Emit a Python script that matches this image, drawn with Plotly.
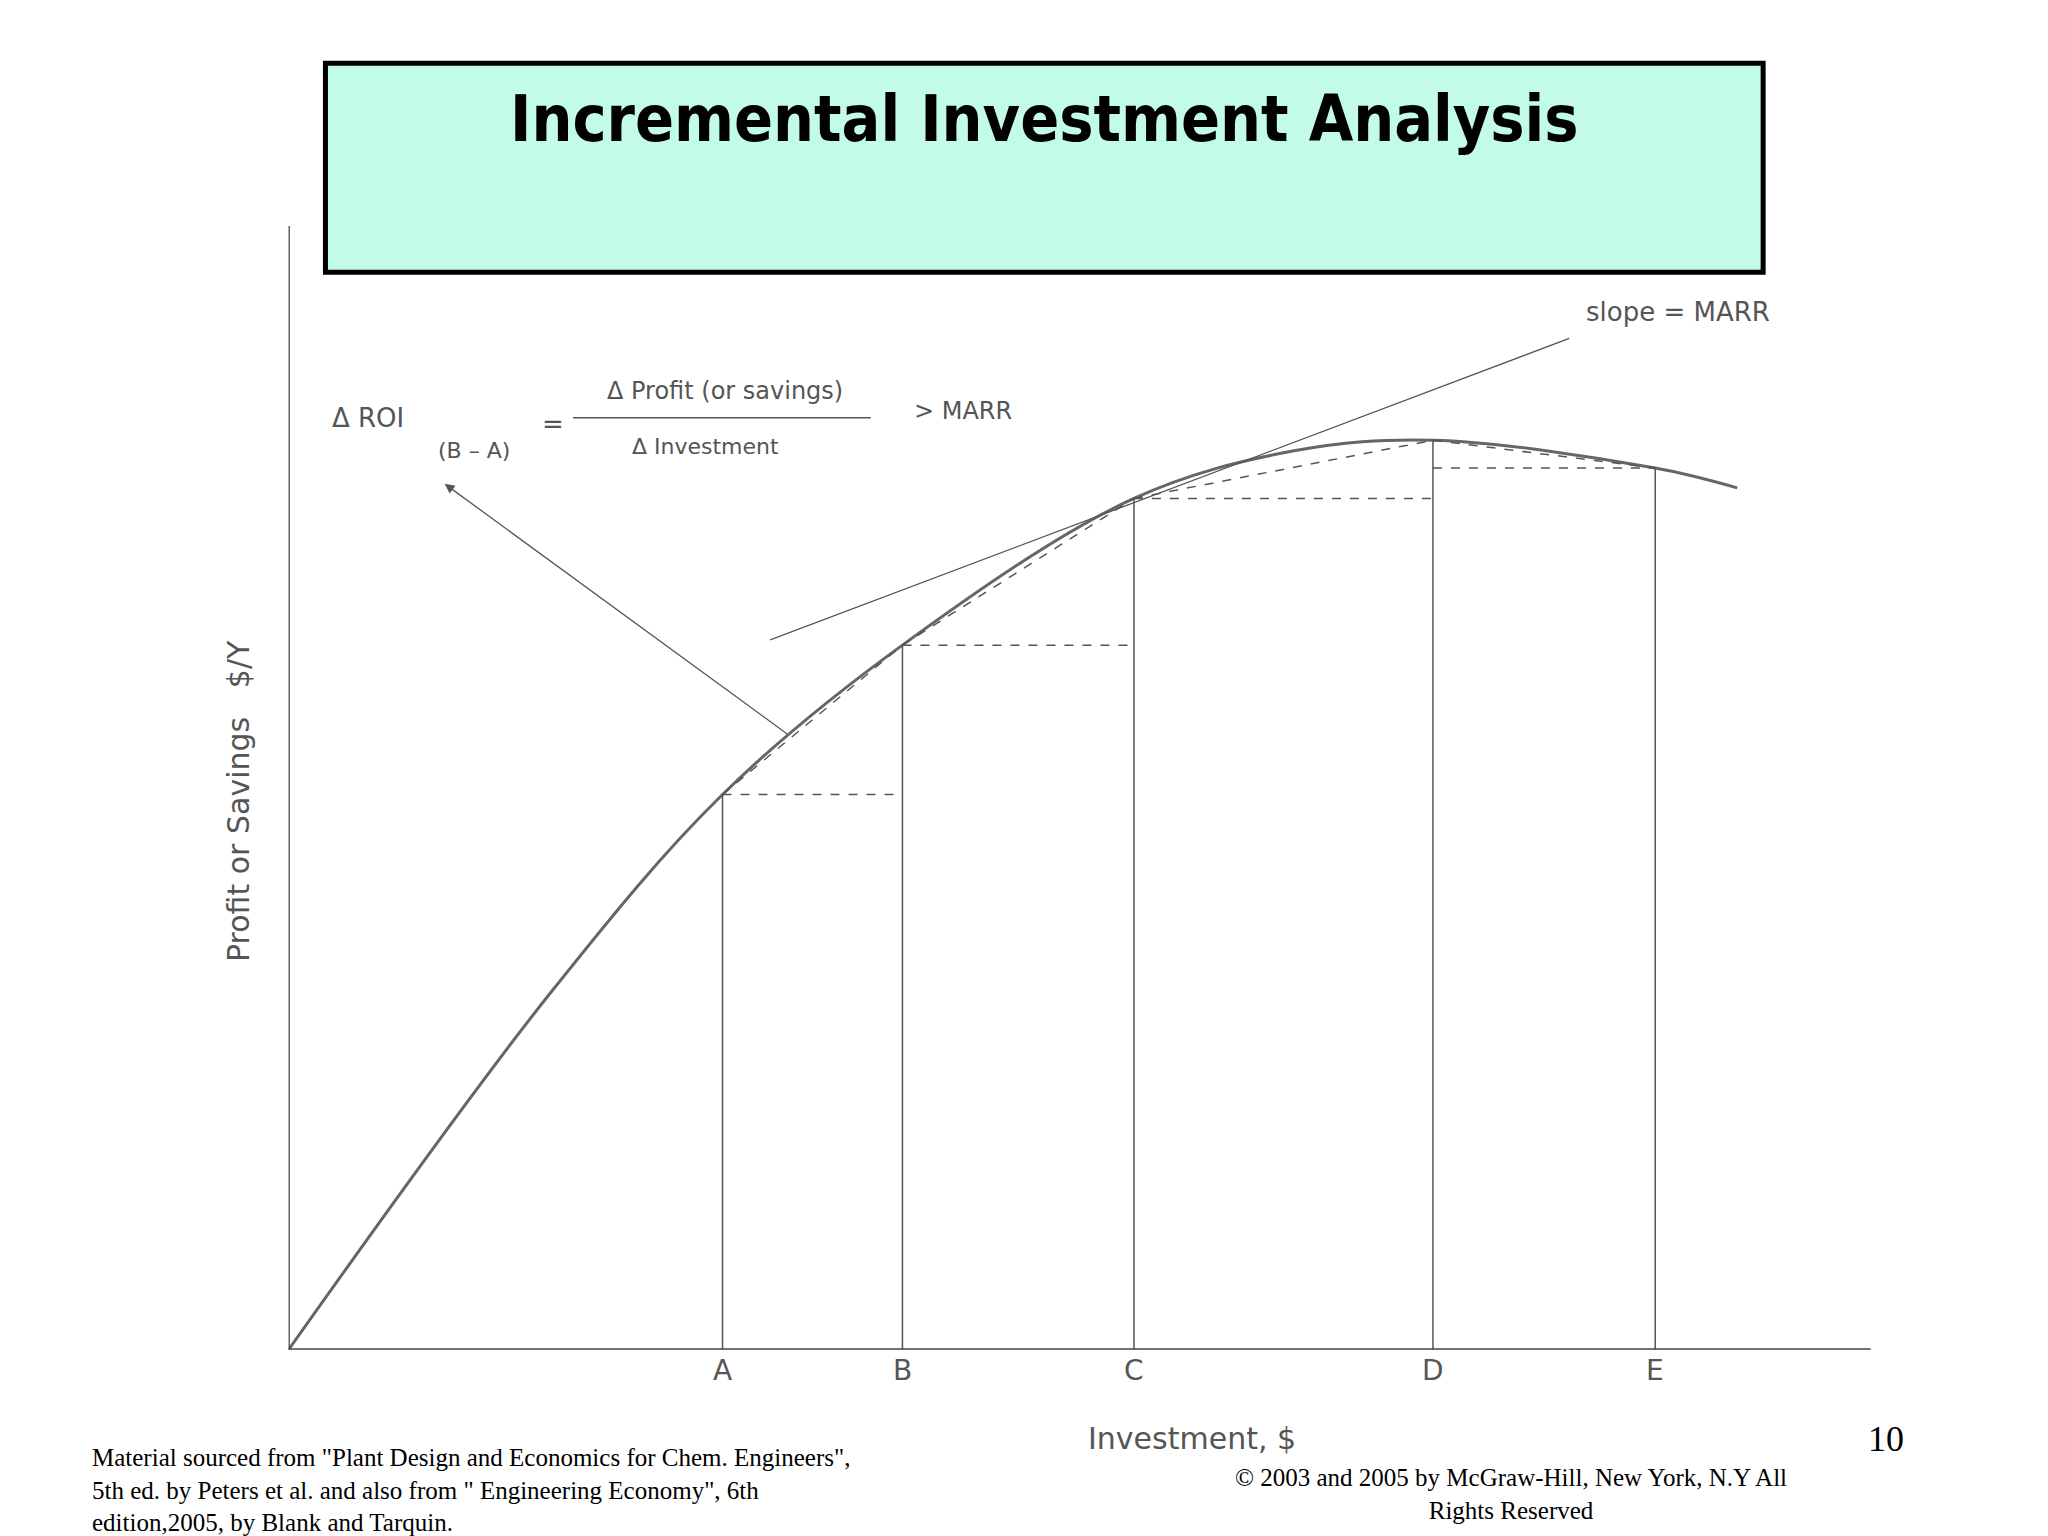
import plotly.graph_objects as go

# curve points (investment, profit) in arbitrary units
curve_x = [0, 198, 328, 464, 639, 760, 865, 1033, 1095]
curve_y = [0, 270, 420, 533, 644, 680, 688, 667, 652]
alt_labels = ["A", "B", "C", "D", "E"]
alt_x = [328, 464, 639, 865, 1033]
alt_y = [420, 533, 644, 688, 667]
tangent_x = [364, 968]
tangent_y = [537, 765]

W, H = 2048, 1536
fig = go.Figure()
G = "#555"
fig.add_trace(go.Scatter(x=curve_x, y=curve_y, mode="lines", line=dict(color="#666", width=3, shape="spline"), hoverinfo="skip"))
fig.add_trace(go.Scatter(x=tangent_x, y=tangent_y, mode="lines", line=dict(color=G, width=1.3), hoverinfo="skip"))
for i, (x, y) in enumerate(zip(alt_x, alt_y)):
    fig.add_trace(go.Scatter(x=[x, x], y=[0, y], mode="lines", line=dict(color=G, width=1.5), hoverinfo="skip"))
    if i + 1 < len(alt_x):
        nx, ny = alt_x[i + 1], alt_y[i + 1]
        hy = min(y, ny)
        fig.add_trace(go.Scatter(x=[x, nx], y=[hy, hy], mode="lines", line=dict(color=G, width=1.5, dash="dash"), hoverinfo="skip"))
        fig.add_trace(go.Scatter(x=[x, nx], y=[y, ny], mode="lines", line=dict(color=G, width=1.5, dash="dash"), hoverinfo="skip"))

fig.update_layout(
    width=W, height=H, margin=dict(l=0, r=0, t=0, b=0), showlegend=False,
    paper_bgcolor="white", plot_bgcolor="white",
    xaxis=dict(domain=[0.137, 0.9096], range=[0, 1196], showgrid=False, zeroline=False, showticklabels=False),
    yaxis=dict(domain=[0.1265, 0.858], range=[0, 850], showgrid=False, zeroline=False, showticklabels=False),
)
fig.add_shape(type="line", xref="x", yref="y", x0=0, y0=0, x1=1196, y1=0, line=dict(color="#444", width=3))
fig.add_shape(type="line", xref="x", yref="y", x0=0, y0=0, x1=0, y1=850, line=dict(color="#444", width=2.5))
fig.add_shape(type="rect", xref="paper", yref="paper", x0=0.155, x1=0.857, y0=0.828, y1=0.964,
              fillcolor="#c3fbea", line=dict(color="black", width=5))
fig.add_annotation(xref="paper", yref="paper", x=0.506, y=0.928, yanchor="middle", text="<b>Incremental Investment Analysis</b>",
                   showarrow=False, font=dict(family="DejaVu Sans Condensed", size=64, color="black"))
fig.update_annotations()
hand = dict(family="DejaVu Sans", color="#555")
for lab, x in zip(alt_labels, alt_x):
    fig.add_annotation(xref="x", yref="paper", x=x, y=0.101, text=lab, showarrow=False, font=dict(size=28, **hand))
fig.add_annotation(xref="paper", yref="paper", x=0.578, y=0.056, text="Investment, $", showarrow=False, font=dict(size=30, **hand))
fig.add_annotation(xref="paper", yref="paper", x=0.103, y=0.484, text="Profit or Savings   $/Y", textangle=-90, showarrow=False, font=dict(size=30, **hand))
fig.add_annotation(xref="x", yref="y", x=1050, y=785, text="slope = MARR", showarrow=False, font=dict(size=26, **hand))
fig.add_annotation(xref="x", yref="y", x=118, y=655, ax=378, ay=465, axref="x", ayref="y", text="",
                   showarrow=True, arrowhead=2, arrowsize=1.5, arrowwidth=1.3, arrowcolor=G)
fig.add_annotation(xref="x", yref="y", x=60, y=705, text="Δ ROI", showarrow=False, font=dict(size=26, **hand))
fig.add_annotation(xref="x", yref="y", x=140, y=680, text="(B – A)", showarrow=False, font=dict(size=22, **hand))
fig.add_annotation(xref="x", yref="y", x=200, y=700, text="=", showarrow=False, font=dict(size=26, **hand))
fig.add_annotation(xref="x", yref="y", x=330, y=725, text="Δ Profit (or savings)", showarrow=False, font=dict(size=24, **hand))
fig.add_shape(type="line", xref="x", yref="y", x0=215, x1=440, y0=705, y1=705, line=dict(color=G, width=1.5))
fig.add_annotation(xref="x", yref="y", x=315, y=683, text="Δ Investment", showarrow=False, font=dict(size=22, **hand))
fig.add_annotation(xref="x", yref="y", x=510, y=710, text="> MARR", showarrow=False, font=dict(size=24, **hand))
serif = dict(family="Liberation Serif", color="black", size=25)
fig.add_annotation(xref="paper", yref="paper", x=0.04, y=0.004, xanchor="left", yanchor="bottom", align="left",
                   text='Material sourced from "Plant Design and Economics for Chem. Engineers",<br>5th ed. by Peters et al. and also from " Engineering Economy", 6th<br>edition,2005, by Blank and Tarquin.',
                   showarrow=False, font=serif)
fig.add_annotation(xref="paper", yref="paper", x=0.734, y=0.012, xanchor="center", yanchor="bottom", align="center",
                   text="© 2003 and 2005 by McGraw-Hill, New York, N.Y All<br>Rights Reserved", showarrow=False, font=serif)
fig.add_annotation(xref="paper", yref="paper", x=0.917, y=0.054, xanchor="center", text="10", showarrow=False,
                   font=dict(family="Liberation Serif", color="black", size=36))
fig.write_html("out.html")
